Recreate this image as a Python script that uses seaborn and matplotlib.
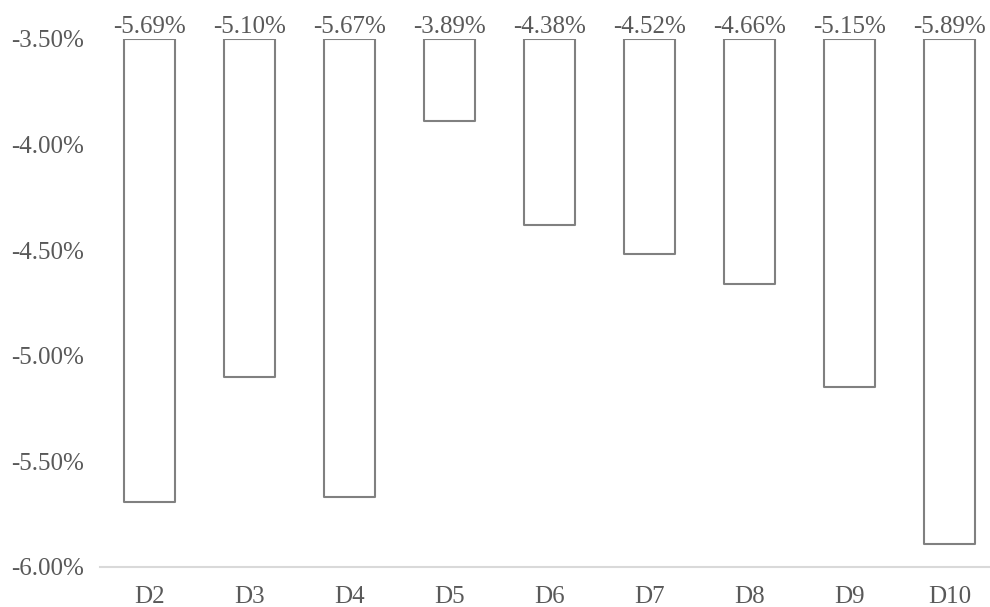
import matplotlib
matplotlib.use("Agg")
import matplotlib.pyplot as plt
import seaborn as sns
import pandas as pd
from matplotlib.ticker import FuncFormatter

categories = ["D2", "D3", "D4", "D5", "D6", "D7", "D8", "D9", "D10"]
values = [-5.69, -5.10, -5.67, -3.89, -4.38, -4.52, -4.66, -5.15, -5.89]
baseline = -3.50
y_ticks = [-6.00, -5.50, -5.00, -4.50, -4.00, -3.50]

sns.set_theme(style="white")
plt.rcParams["font.family"] = ["Liberation Serif", "DejaVu Serif"]

text_color = "#595959"
df = pd.DataFrame({"group": categories, "value": values})
df["drop"] = df["value"] - baseline

fig = plt.figure(figsize=(9.9, 6.07), dpi=100)
ax = fig.add_axes([99.5 / 990, 40 / 607, 900 / 990, 528 / 607])

sns.barplot(data=df, x="group", y="drop", bottom=baseline, ax=ax,
            color="white", edgecolor="#808080", linewidth=1.5,
            width=0.51, saturation=1, joinstyle="round")

for i, v in enumerate(values):
    ax.annotate(f"{v:.2f}%", xy=(i, baseline), xytext=(0, 1),
                textcoords="offset points", ha="center", va="bottom",
                fontsize=18, color=text_color, annotation_clip=False)

ax.set_ylim(-6.0, -3.5)
ax.set_xlim(-0.5, 8.5)
ax.set_yticks(y_ticks)
ax.yaxis.set_major_formatter(FuncFormatter(lambda y, _: f"{y:.2f}%"))
ax.set_xlabel("")
ax.set_ylabel("")
ax.tick_params(axis="both", length=0, labelsize=18, labelcolor=text_color)
ax.tick_params(axis="y", pad=11)
ax.tick_params(axis="x", pad=14)

for side in ["top", "right", "left"]:
    ax.spines[side].set_visible(False)
ax.spines["bottom"].set_color("#d9d9d9")
ax.spines["bottom"].set_linewidth(1.5)

fig.savefig("out.png", dpi=100)
